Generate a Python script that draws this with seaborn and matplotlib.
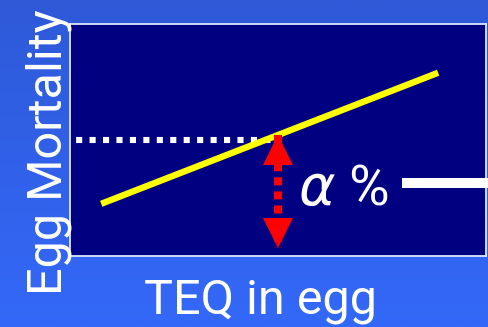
import numpy as np
import pandas as pd
import matplotlib
matplotlib.use("Agg")
import matplotlib.pyplot as plt
from matplotlib.colors import LinearSegmentedColormap
from matplotlib.transforms import offset_copy
import seaborn as sns

# Dose-response line: egg mortality against TEQ concentration in egg
teq = [7.5, 88.5]
mortality = [22.5, 79.0]

# Threshold marking the alpha % mortality level
alpha_teq = 50.0
alpha_level = 50.0
arrow_floor = 3.5

x_label = "TEQ in egg"
y_label = "Egg Mortality"
alpha_label = r"$\alpha$ %"

sns.set_theme(style="white")
plt.rcParams["font.family"] = ["Roboto", "DejaVu Sans"]
plt.rcParams["mathtext.fontset"] = "dejavusans"

fig = plt.figure(figsize=(4.89, 3.27), dpi=100)

# Slide-style blue gradient behind everything
bg = fig.add_axes([0, 0, 1, 1], zorder=-10)
grad = np.linspace(0, 1, 256).reshape(-1, 1)
cmap = LinearSegmentedColormap.from_list("slide", ["#2E5AD8", "#3468F8"])
bg.imshow(grad, aspect="auto", cmap=cmap, extent=[0, 1, 0, 1], origin="upper")
bg.set_axis_off()

ax = fig.add_axes([70 / 489, (327 - 256) / 327, 416 / 489, 232 / 327])
ax.set_facecolor("#000080")
ax.set_xlim(0, 100)
ax.set_ylim(0, 100)
ax.set_xticks([])
ax.set_yticks([])
for s in ax.spines.values():
    s.set_color("#DDE6FF")
    s.set_linewidth(1.3)

df = pd.DataFrame({"teq": teq, "mortality": mortality})
sns.lineplot(data=df, x="teq", y="mortality", color="#FFFF00", lw=4.6,
             solid_capstyle="butt", ax=ax, zorder=3)
ax.set_xlabel("")
ax.set_ylabel("")

# Horizontal dotted guide from the y axis to the threshold
ax.plot([0, alpha_teq], [alpha_level, alpha_level], color="white", lw=4.4,
        linestyle=(1.2, (1.0, 1.2)), dash_capstyle="butt", zorder=2)

# Double-headed red arrow with a dotted shaft
tip_top = np.interp(alpha_teq, teq, mortality)
ax.plot([alpha_teq, alpha_teq], [tip_top, arrow_floor], color="#FF0000", lw=5.8,
        linestyle=(0, (1.0, 0.75)), dash_capstyle="butt", zorder=4)
head = 22
ax.plot([alpha_teq], [tip_top], marker="^", ms=head, color="#FF0000", mew=0,
        transform=offset_copy(ax.transData, fig, y=-head / 2, units="points"),
        zorder=5)
ax.plot([alpha_teq], [arrow_floor], marker="v", ms=head, color="#FF0000", mew=0,
        transform=offset_copy(ax.transData, fig, y=head / 2, units="points"),
        zorder=5)

ax.text(54.8, 22.0, alpha_label, color="white", fontsize=40, ha="left",
        va="baseline", zorder=6)

# Connector bar leading off to the right
ax.plot([79.8, 110], [31.5, 31.5], color="white", lw=7.2, solid_capstyle="butt",
        clip_on=False, zorder=6)

fig.text(261 / 489, 14 / 327, x_label, color="white", fontsize=35,
         ha="center", va="baseline")
fig.text(62 / 489, (327 - 152) / 327, y_label, color="white", fontsize=35,
         rotation=90, rotation_mode="anchor", ha="center", va="baseline")

fig.savefig("out.png", dpi=100)
